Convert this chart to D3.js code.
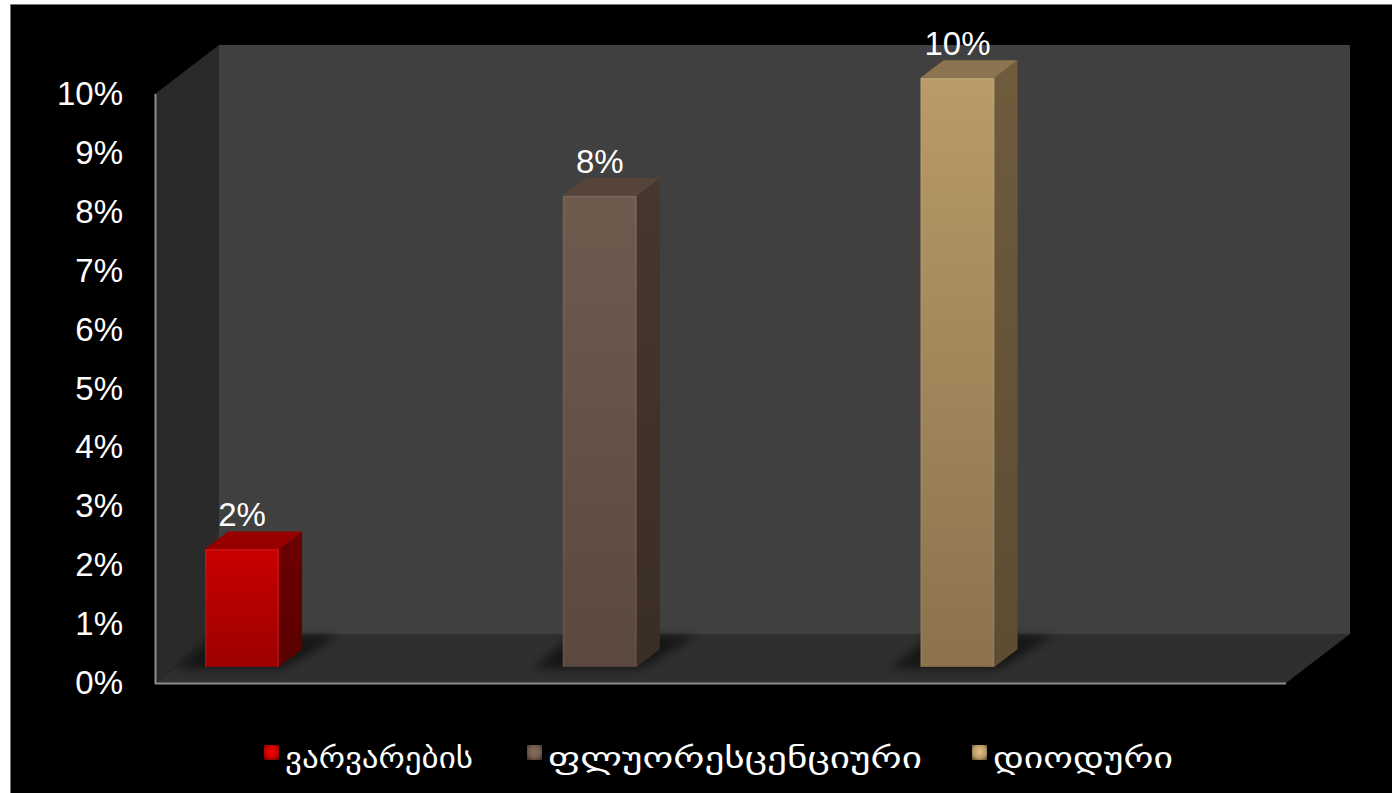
<!DOCTYPE html>
<html>
<head>
<meta charset="utf-8">
<script src="https://cdn.jsdelivr.net/npm/d3@7"></script>
<style>
  html, body { margin: 0; padding: 0; background: #ffffff; }
  svg { display: block; }
</style>
</head>
<body>
<svg id="chart" width="1392" height="793"></svg>
<script>
// Lamp types and their share, in percent
const categories = ["ვარვარების", "ფლუორესცენციური", "დიოდური"];
const values = [2, 8, 10];
const yTicks = [0, 1, 2, 3, 4, 5, 6, 7, 8, 9, 10];
const tickLabels = yTicks.map(d => d + "%");

// Face colours per series: [front top, front bottom, top face, side top, side bottom]
const faceColors = [
  ["#c90000", "#9c0000", "#980000", "#6e0000", "#5a0000"],
  ["#6f5a4e", "#5b483e", "#56443a", "#46372e", "#3a2d25"],
  ["#b99b68", "#8b724d", "#8d7450", "#6f5c3d", "#5c4c31"]
];

const svg = d3.select("#chart");
const W = 1392, H = 793;

// 3D box geometry
const front = { left: 155, right: 1286 };
const depth = { dx: 64, dy: 49 };      // offset from front plane to back wall
const barDepth = [0.33, 0.69];         // bar front/back as fraction of depth
const barWidth = 74;

const y = d3.scaleLinear().domain([0, 10]).range([683, 94]);
const x = d3.scalePoint().domain(categories).range([242, 957.5]);

const proj = (px, py, d) => [px + d * depth.dx, py - d * depth.dy];

// background and frame
svg.append("rect").attr("width", W).attr("height", H).attr("fill", "#ffffff");
svg.append("rect").attr("x", 10.5).attr("y", 4.5).attr("width", W - 10).attr("height", H - 4)
  .attr("fill", "#000000").attr("stroke", "#7a7a7a").attr("stroke-width", 1);

const defs = svg.append("defs");
const blur = defs.append("filter").attr("id", "soft").attr("x", "-30%").attr("y", "-100%")
  .attr("width", "160%").attr("height", "300%");
blur.append("feGaussianBlur").attr("stdDeviation", 5);

faceColors.forEach((c, i) => {
  const g1 = defs.append("linearGradient").attr("id", "front" + i)
    .attr("x1", 0).attr("y1", 0).attr("x2", 0).attr("y2", 1);
  g1.append("stop").attr("offset", "0%").attr("stop-color", c[0]);
  g1.append("stop").attr("offset", "100%").attr("stop-color", c[1]);
  const g2 = defs.append("linearGradient").attr("id", "side" + i)
    .attr("x1", 0).attr("y1", 0).attr("x2", 0).attr("y2", 1);
  g2.append("stop").attr("offset", "0%").attr("stop-color", c[3]);
  g2.append("stop").attr("offset", "100%").attr("stop-color", c[4]);
  const g3 = defs.append("radialGradient").attr("id", "key" + i)
    .attr("cx", "50%").attr("cy", "45%").attr("r", "70%");
  g3.append("stop").attr("offset", "0%").attr("stop-color", d3.color(c[0]).brighter(0.6));
  g3.append("stop").attr("offset", "60%").attr("stop-color", c[0]);
  g3.append("stop").attr("offset", "100%").attr("stop-color", c[4]);
});

const poly = pts => "M" + pts.map(p => p.join(",")).join("L") + "Z";

// walls and floor
const y0 = y(0), yTop = y(10);
svg.append("path").attr("fill", "#404040")
  .attr("d", poly([proj(front.left, yTop, 1), proj(front.right, yTop, 1),
                   proj(front.right, y0, 1), proj(front.left, y0, 1)]));
svg.append("path").attr("fill", "#2a2a2a")
  .attr("d", poly([[front.left, yTop], proj(front.left, yTop, 1),
                   proj(front.left, y0, 1), [front.left, y0]]));
svg.append("path").attr("fill", "#2f2f2f")
  .attr("d", poly([[front.left, y0], [front.right, y0],
                   proj(front.right, y0, 1), proj(front.left, y0, 1)]));
svg.append("line").attr("x1", front.left).attr("x2", front.right)
  .attr("y1", y0 + 0.5).attr("y2", y0 + 0.5)
  .attr("stroke", "#8e8e8e").attr("stroke-width", 2);
svg.append("line").attr("x1", front.left + 0.5).attr("x2", front.left + 0.5)
  .attr("y1", yTop).attr("y2", y0 + 1)
  .attr("stroke", "#8e8e8e").attr("stroke-width", 2);

// y axis labels
const axis = d3.axisLeft(y).tickValues(yTicks).tickFormat((d, i) => tickLabels[i])
  .tickSize(0).tickPadding(0);
const ax = svg.append("g").attr("transform", "translate(123,0)").call(axis);
ax.select(".domain").remove();
ax.selectAll("text").attr("fill", "#ffffff")
  .style("font-family", "'Liberation Sans', Arial, sans-serif").style("font-size", "33px");

// floor shadows
const shadows = svg.append("g").attr("filter", "url(#soft)");
categories.forEach((c, i) => {
  const cx = x(c);
  const l = cx - barWidth / 2, r = cx + barWidth / 2;
  const fb = y0 - barDepth[0] * depth.dy;
  const back = proj(0, y0, 0.97)[1];
  shadows.append("path").attr("fill", "#000000").attr("opacity", 0.55)
    .attr("d", poly([[l - 30, fb + 2], [r + 4, fb + 2], [r + 60, back], [l + 10, back]]));
});

// bars
const bars = svg.append("g");
categories.forEach((c, i) => {
  const cx = x(c);
  const l = cx - barWidth / 2, r = cx + barWidth / 2;
  const d0 = barDepth[0], d1 = barDepth[1];
  const b0 = y0 - d0 * depth.dy;          // front baseline
  const t0 = y(values[i]) - d0 * depth.dy; // front top
  const dX = (d1 - d0) * depth.dx, dY = (d1 - d0) * depth.dy;
  const g = bars.append("g");
  g.append("path").attr("fill", `url(#side${i})`)
    .attr("d", poly([[r, t0], [r + dX, t0 - dY], [r + dX, b0 - dY], [r, b0]]));
  g.append("path").attr("fill", faceColors[i][2])
    .attr("d", poly([[l, t0], [l + dX, t0 - dY], [r + dX, t0 - dY], [r, t0]]));
  g.append("rect").attr("x", l).attr("y", t0).attr("width", barWidth).attr("height", b0 - t0)
    .attr("fill", `url(#front${i})`);
  // soft bevel highlight along the front edges
  g.append("path").attr("fill", "none").attr("stroke", "#ffffff").attr("stroke-opacity", 0.05)
    .attr("stroke-width", 2).attr("d", `M${l + 1},${b0}L${l + 1},${t0 + 1}L${r - 1},${t0 + 1}L${r - 1},${b0}`);
  // value label
  svg.append("text").attr("x", cx).attr("y", t0 - dY - 5)
    .attr("text-anchor", "middle").attr("fill", "#ffffff")
    .style("font-family", "'Liberation Sans', Arial, sans-serif").style("font-size", "33px")
    .text(values[i] + "%");
});

// legend
const legendX = [264, 527, 972];
const legendTextWidth = [188, 374, 180];
const legend = svg.append("g");
categories.forEach((c, i) => {
  const g = legend.append("g").attr("transform", `translate(${legendX[i]},745)`);
  g.append("rect").attr("width", 15).attr("height", 15).attr("fill", `url(#key${i})`);
  g.append("text").attr("x", 21).attr("y", 23).attr("fill", "#ffffff")
    .attr("textLength", legendTextWidth[i]).attr("lengthAdjust", "spacingAndGlyphs")
    .style("font-family", "'DejaVu Sans', 'Noto Sans', sans-serif").style("font-size", "29px")
    .text(c);
});
</script>
</body>
</html>
